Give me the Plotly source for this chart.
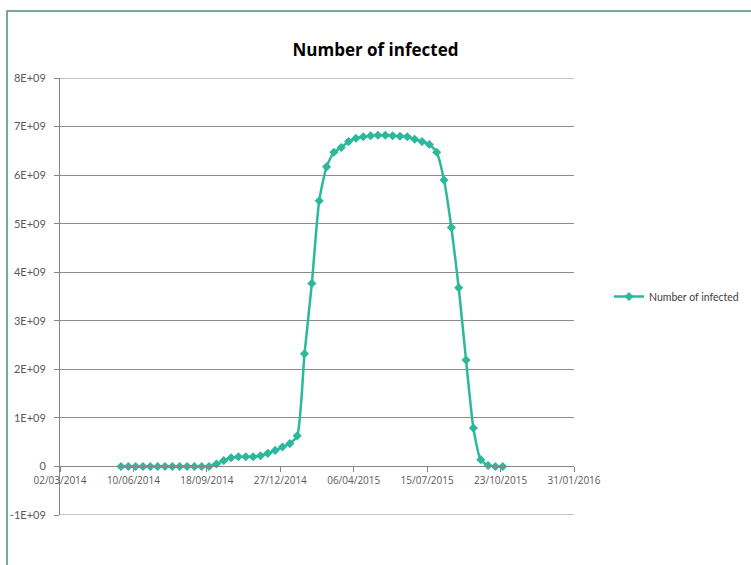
import plotly.graph_objects as go
import pandas as pd

start_date = "2014-05-24"
interval_days = 10
infected = [0, 0, 0, 0, 0, 0, 0, 0, 0, 0, 0, 0, 0,
            0.05e9, 0.12e9, 0.18e9, 0.20e9, 0.20e9, 0.20e9, 0.22e9, 0.27e9,
            0.33e9, 0.40e9, 0.47e9, 0.63e9, 2.32e9, 3.77e9, 5.47e9, 6.17e9,
            6.47e9, 6.57e9, 6.69e9, 6.76e9, 6.79e9, 6.81e9, 6.82e9, 6.82e9,
            6.81e9, 6.80e9, 6.79e9, 6.74e9, 6.69e9, 6.63e9, 6.47e9, 5.90e9,
            4.92e9, 3.68e9, 2.19e9, 0.79e9, 0.14e9, 0.02e9, 0, 0]
dates = pd.date_range(start_date, periods=len(infected), freq=f"{interval_days}D")

x_ticks = pd.date_range("2014-03-02", "2016-01-31", freq="100D")
x_tick_text = [d.strftime("%d/%m/%Y") for d in x_ticks]
y_ticks = [-1e9, 0, 1e9, 2e9, 3e9, 4e9, 5e9, 6e9, 7e9, 8e9]
y_tick_text = ["-1E+09", "0", "1E+09", "2E+09", "3E+09", "4E+09", "5E+09", "6E+09", "7E+09", "8E+09"]

color = "#2CB89B"
fig = go.Figure()
fig.add_trace(go.Scatter(
    x=dates, y=infected, mode="lines+markers", name="Number of infected",
    line=dict(color=color, width=2.5, shape="spline", smoothing=0.6),
    marker=dict(symbol="diamond", size=7, color=color),
))

edge_grid = [dict(type="line", xref="paper", yref="y", x0=0, x1=1,
                  y0=v, y1=v, line=dict(color="#b0b0b0", width=1.5), layer="below")
             for v in (y_ticks[0], y_ticks[-1])]

fig.update_layout(
    width=751, height=565,
    margin=dict(l=60, r=177, t=78, b=50, autoexpand=False),
    paper_bgcolor="white", plot_bgcolor="white",
    font=dict(family="Open Sans, Lato, sans-serif", size=10, color="#595959"),
    title=dict(text="<b>Number of infected</b>", x=0.5, xanchor="center",
               y=1 - 50 / 565, yanchor="middle",
               font=dict(size=17, color="#000000", family="Open Sans, Lato, sans-serif")),
    showlegend=True,
    legend=dict(x=(609 - 60) / 514, y=0.5, xanchor="left", yanchor="middle",
                font=dict(size=10.5, color="#404040", family="Lato, sans-serif"),
                bgcolor="rgba(0,0,0,0)"),
    xaxis=dict(
        type="date",
        range=[x_ticks[0], x_ticks[-1]],
        tickvals=list(x_ticks), ticktext=x_tick_text,
        showgrid=False, showline=True, linecolor="#868686", linewidth=1,
        ticks="outside", ticklen=5, tickcolor="#868686",
        anchor="free", position=1 / 9,
        tickfont=dict(size=10, color="#595959"),
    ),
    yaxis=dict(
        range=[-1e9, 8e9],
        tickvals=y_ticks, ticktext=y_tick_text,
        showgrid=True, gridcolor="#8c8c8c", gridwidth=1,
        zeroline=False,
        showline=True, linecolor="#868686", linewidth=1,
        ticks="outside", ticklen=5, tickcolor="#868686",
        ticklabelstandoff=6,
        tickfont=dict(size=11, color="#595959", family="Lato, sans-serif"),
    ),
    shapes=edge_grid + [dict(type="rect", xref="paper", yref="paper",
                 x0=(7 - 60) / 514, x1=1.5, y0=-0.5, y1=(515 - 11) / 437,
                 line=dict(color="#4F8A84", width=1.5), fillcolor="rgba(0,0,0,0)")],
)

fig.write_html("out.html", config={"displayModeBar": False},
               post_script="document.body.style.margin='0';document.body.style.overflow='hidden';")
